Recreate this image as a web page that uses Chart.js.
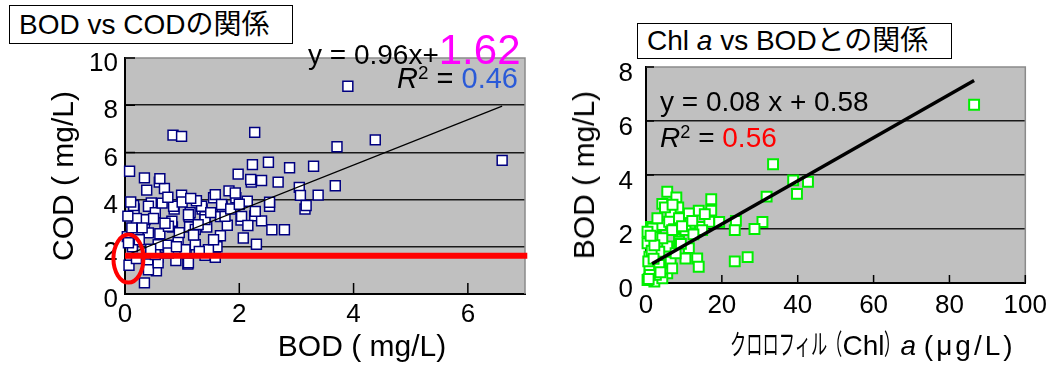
<!DOCTYPE html>
<html lang="ja">
<head>
<meta charset="utf-8">
<title>BOD vs COD / Chl a vs BOD</title>
<script src="https://cdn.jsdelivr.net/npm/chart.js@4.4.1/dist/chart.umd.min.js"></script>
<style>
  html, body { margin: 0; padding: 0; background: #fff; }
  body {
    width: 1054px; height: 365px; position: relative; overflow: hidden;
    font-family: "Liberation Sans", Arial, "Noto Sans CJK JP", sans-serif; color: #000;
  }
  canvas { position: absolute; top: 0; }
  #chartCod { left: 0; }
  #chartChl { left: 540px; }
  .lbl { position: absolute; white-space: nowrap; line-height: 1; }
  .box { box-sizing: border-box; border: 1px solid #000; background: #fff; padding-left: 9px; }
  .rot { transform: translate(-50%, -50%) rotate(-90deg); }
  .cx { transform: translateX(-50%); }
  sup { font-size: 0.65em; vertical-align: 0.5em; line-height: 0; }
  .cond { display: inline-block; transform: scaleX(0.58); transform-origin: left center; }
</style>
</head>
<body>
<canvas id="chartCod" width="540" height="365"></canvas>
<canvas id="chartChl" width="514" height="365"></canvas>

<div class="lbl box" style="left:9px; top:5px; width:284px; height:39px; line-height:37px; font-size:28px;">BOD vs CODの関係</div>
<div class="lbl" style="left:308px; top:29px; font-size:42px;"><span style="font-size:28px;">y = 0.96x+</span><span style="color:#ff00ff;">1.62</span></div>
<div class="lbl" style="right:536px; top:64px; font-size:29px;"><i>R</i><sup>2</sup> = <span style="color:#2a5ad8;">0.46</span></div>
<div class="lbl rot" style="left:63px; top:176px; font-size:30px;">COD ( mg/L)</div>
<div class="lbl cx" style="left:362px; top:331px; font-size:30px;">BOD ( mg/L)</div>

<div class="lbl box" style="left:637px; top:23px; width:315px; height:36px; line-height:34px; font-size:28px;">Chl <i>a</i> vs BODとの関係</div>
<div class="lbl" style="left:660px; top:88px; font-size:28px;">y = 0.08 x + 0.58</div>
<div class="lbl" style="left:660px; top:124px; font-size:28px;"><i>R</i><sup>2</sup> = <span style="color:#ff0000;">0.56</span></div>
<div class="lbl rot" style="left:584px; top:175px; font-size:30px;">BOD ( mg/L)</div>
<div class="lbl" style="left:730px; top:332px; font-size:28px;"><span class="cond" style="margin-right:-71px;">クロロフィル</span><span class="cond" style="margin-right:-12px;">（</span>Chl<span class="cond" style="margin-right:-12px;">）</span><i>a</i> <span style="letter-spacing:3px;">(μg/L)</span></div>

<script>
// BOD vs COD (mg/L)
const codPoints = [
  [3.9, 8.8], [0.84, 6.73], [0.99, 6.68], [2.27, 6.85], [3.71, 6.24], [4.38, 6.53], [6.6, 5.66],
  [0.08, 5.2], [0.34, 4.92], [0.6, 4.74], [0.69, 4.47], [0.38, 4.4], [0.99, 4.19],
  [2.23, 5.48], [2.51, 5.58], [2.88, 5.35], [3.3, 5.41], [1.98, 5.08], [2.21, 4.74], [2.39, 4.81],
  [2.68, 4.74], [3.05, 4.52], [3.07, 4.18], [3.38, 4.19], [3.68, 4.59], [3.15, 3.6], [3.17, 3.75],
  [2.53, 3.72], [1.82, 4.37], [1.94, 4.08], [1.55, 4.08], [1.7, 3.72], [2.03, 3.13], [2.27, 3.31],
  [2.39, 3.1], [2.57, 2.72], [2.79, 2.72], [2.07, 2.37], [2.3, 2.11], [1.35, 3.6], [1.12, 3.28],
  [0.86, 3.6], [0.46, 3.86], [0.16, 3.6], [0.34, 3.01], [0.61, 2.55], [0.83, 2.84], [1.13, 2.84],
  [1.43, 2.84], [1.67, 2.47], [0.04, 2.43], [1.67, 3.28], [1.4, 3.28], [1.79, 2.91],
  [0.07, 1.22], [0.34, 0.47], [0.55, 0.98], [1.1, 1.27], [1.58, 1.56], [1.4, 1.64], [0.74, 2.07],
  [1.07, 1.71], [0.4, 1.27], [0.13, 2.0], [0.58, 1.56], [0.89, 1.42], [1.61, 2.0],
  [0.15, 3.75], [0.41, 3.72], [0.85, 3.72], [1.14, 3.44], [1.34, 3.72], [1.58, 4.21], [1.69, 3.79],
  [1.93, 4.28], [0.35, 3.15], [0.82, 3.08], [1.11, 3.36], [0.53, 3.44], [1.4, 3.15], [1.75, 3.29],
  [0.61, 4.89], [0.41, 1.03], [0.58, 1.32], [0.76, 1.74], [1.11, 1.32], [1.23, 2.09], [0.93, 2.23],
  [0.58, 2.09], [0.41, 2.59], [0.06, 2.17], [0.23, 2.59], [0.76, 2.87], [1.23, 2.73], [1.28, 2.94],
  [1.46, 1.88], [1.05, 1.88], [0.53, 1.67], [2.04, 3.29], [2.28, 3.5], [2.14, 3.93], [2.2, 4.85],
  [2.53, 3.89], [0.1, 3.9], [0.2, 3.2], [0.3, 2.8], [0.5, 3.2], [0.7, 3.0], [0.95, 2.6], [1.2, 2.5],
  [1.0, 3.9], [1.25, 3.95], [1.5, 3.45], [0.65, 3.85], [0.25, 2.3], [0.9, 2.0], [1.3, 1.8],
  [0.2, 1.5], [0.45, 1.9], [0.12, 2.8], [0.05, 3.3], [1.55, 2.3], [1.85, 3.6], [1.15, 4.05],
  [0.75, 4.1], [2.0, 3.8], [2.15, 2.9]
];
const codTrend = [[0, 1.62], [6.6, 7.96]];
const codMark = [[0, 1.62], [7.04, 1.62]];
const codTicksX = [0, 2, 4, 6];

// Chl a (μg/L) vs BOD (mg/L)
const chlPoints = [
  [86.5, 6.6], [33.5, 4.4], [38.8, 3.8], [42.7, 3.75], [39.8, 3.3], [31.8, 3.2], [30.7, 2.26],
  [28.6, 2.0], [23.4, 0.8], [26.8, 0.96], [23.7, 2.3], [23.4, 1.96],
  [5.6, 3.38], [8.0, 3.17], [4.3, 2.93], [8.5, 2.8], [17.2, 3.1], [17.2, 2.68], [13.9, 2.68],
  [11.3, 2.58], [6.5, 2.58], [1.3, 2.08], [3.9, 2.15], [6.1, 2.27], [8.7, 2.4], [11.7, 2.21],
  [14.3, 2.08], [16.7, 2.27], [7.4, 1.99], [10.4, 1.96], [19.3, 2.26], [14.8, 1.96],
  [1.7, 2.02], [6.9, 1.96], [8.7, 1.53], [5.6, 1.35], [2.6, 1.71], [3.5, 1.16], [0.9, 0.97],
  [13.5, 0.91], [13.9, 0.6], [6.5, 0.79], [5.6, 0.36], [2.2, 0.05], [0.4, 0.11], [4.3, 0.17],
  [0.9, 0.54], [10.4, 0.91], [11.3, 1.29], [7.8, 1.1], [0.4, 1.47], [0.4, 1.9], [4.3, 1.66],
  [6.9, 0.54], [3.5, 0.67], [2.6, 0.3], [1.0, 0.3], [0.6, 0.8], [1.5, 1.2], [2.0, 0.9], [3.0, 2.4],
  [9.5, 2.1], [12.5, 1.8], [5.0, 2.8], [7.0, 2.9], [2.2, 1.4], [0.7, 0.15], [3.8, 0.4], [9.2, 1.45],
  [12.2, 2.3], [15.5, 2.55], [1.2, 1.75]
];
const chlTrend = [[1.6, 0.71], [86.5, 7.5]];

const tickFont = { family: "'Liberation Sans', Arial, sans-serif", size: 26 };
const toXY = (arr) => arr.map(([x, y]) => ({ x, y }));

// 灰色の背景、上と右の枠、内向きの目盛り、赤い楕円
const plotFrame = {
  id: 'plotFrame',
  beforeDraw(chart) {
    const { ctx, chartArea: a } = chart;
    ctx.save();
    ctx.fillStyle = '#c0c0c0';
    ctx.fillRect(a.left, a.top, a.right - a.left, a.bottom - a.top);
    ctx.restore();
  },
  beforeDatasetsDraw(chart, args, opts) {
    const { ctx, chartArea: a, scales } = chart;
    ctx.save();
    ctx.strokeStyle = '#8a8a8a';
    ctx.lineWidth = 1.5;
    ctx.beginPath();
    ctx.moveTo(a.left, a.top);
    ctx.lineTo(a.right, a.top);
    ctx.lineTo(a.right, a.bottom);
    ctx.stroke();
    ctx.strokeStyle = '#000';
    ctx.beginPath();
    scales.x.ticks.forEach((t) => {
      const px = scales.x.getPixelForValue(t.value);
      ctx.moveTo(px, a.bottom);
      ctx.lineTo(px, a.bottom - opts.tickX);
    });
    scales.y.ticks.forEach((t) => {
      const py = scales.y.getPixelForValue(t.value);
      ctx.moveTo(a.left, py);
      ctx.lineTo(a.left + opts.tickY, py);
    });
    ctx.stroke();
    ctx.restore();
  },
  afterDatasetsDraw(chart, args, opts) {
    if (!opts.ellipse) return;
    const { ctx, scales } = chart;
    const e = opts.ellipse;
    ctx.save();
    ctx.strokeStyle = '#ff0000';
    ctx.lineWidth = 4;
    ctx.beginPath();
    ctx.ellipse(scales.x.getPixelForValue(e.x), scales.y.getPixelForValue(e.y), e.rx, e.ry, 0, 0, Math.PI * 2);
    ctx.stroke();
    ctx.restore();
  }
};

function makeScales(cfg) {
  return {
    x: {
      type: 'linear', min: cfg.xMin, max: cfg.xMax,
      afterBuildTicks: (scale) => { scale.ticks = cfg.xTicks.map((v) => ({ value: v })); },
      afterFit: (scale) => { scale.height = cfg.xHeight; },
      grid: { display: false, drawTicks: false },
      border: { display: true, color: '#000', width: 2 },
      ticks: { font: tickFont, color: '#000', padding: cfg.xPad, maxRotation: 0 }
    },
    y: {
      type: 'linear', min: cfg.yMin, max: cfg.yMax,
      afterBuildTicks: (scale) => { scale.ticks = cfg.yTicks.map((v) => ({ value: v })); },
      afterFit: (scale) => { scale.width = cfg.yWidth; },
      grid: {
        drawTicks: false, lineWidth: 1.5,
        color: (c) => (c.tick && c.tick.value === cfg.yMax ? 'rgba(0,0,0,0)' : '#1a1a1a')
      },
      border: { display: true, color: '#000', width: 2 },
      ticks: { font: tickFont, color: '#000', padding: cfg.yPad, labelOffset: cfg.yOffset }
    }
  };
}

new Chart(document.getElementById('chartCod'), {
  type: 'scatter',
  data: {
    datasets: [
      {
        data: toXY(codPoints), pointStyle: 'rect', pointRadius: 7,
        backgroundColor: '#ffffff', borderColor: '#000080', borderWidth: 1.5, clip: false, order: 3
      },
      {
        data: toXY(codTrend), showLine: true, borderColor: '#000', borderWidth: 1.2,
        pointRadius: 0, order: 2
      },
      {
        data: toXY(codMark), showLine: true, borderColor: '#ff0000', borderWidth: 6,
        pointRadius: 0, clip: false, order: 1
      }
    ]
  },
  options: {
    responsive: false, animation: false, events: [],
    layout: { padding: { top: 58, right: 15, left: 0, bottom: 0 } },
    plugins: {
      legend: { display: false }, tooltip: { enabled: false },
      plotFrame: { tickX: 11, tickY: 10, ellipse: { x: 0.06, y: 1.5, rx: 15, ry: 24 } }
    },
    scales: makeScales({
      xMin: 0, xMax: 7, xTicks: codTicksX, xHeight: 71, xPad: 5,
      yMin: 0, yMax: 10, yTicks: [0, 2, 4, 6, 8, 10], yWidth: 125, yPad: 7, yOffset: 6
    })
  },
  plugins: [plotFrame]
});

new Chart(document.getElementById('chartChl'), {
  type: 'scatter',
  data: {
    datasets: [
      {
        data: toXY(chlPoints), pointStyle: 'rect', pointRadius: 7,
        backgroundColor: '#ffffff', borderColor: '#00ee00', borderWidth: 2, clip: false, order: 2
      },
      {
        data: toXY(chlTrend), showLine: true, borderColor: '#000', borderWidth: 3.5,
        pointRadius: 0, order: 1
      }
    ]
  },
  options: {
    responsive: false, animation: false, events: [],
    layout: { padding: { top: 67, right: 24, left: 0, bottom: 0 } },
    plugins: {
      legend: { display: false }, tooltip: { enabled: false },
      plotFrame: { tickX: 8, tickY: 8 }
    },
    scales: makeScales({
      xMin: 0, xMax: 100, xTicks: [0, 20, 40, 60, 80, 100], xHeight: 82, xPad: 7,
      yMin: 0, yMax: 8, yTicks: [0, 2, 4, 6, 8], yWidth: 106, yPad: 13, yOffset: 7
    })
  },
  plugins: [plotFrame]
});
</script>
</body>
</html>
